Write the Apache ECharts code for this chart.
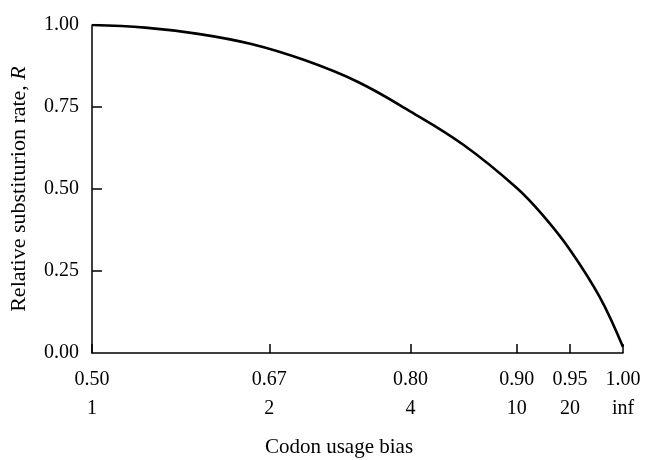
<!DOCTYPE html>
<html>
<head>
<meta charset="utf-8">
<script src="https://cdn.jsdelivr.net/npm/echarts@6/dist/echarts.min.js"></script>
<style>
  html, body { margin: 0; padding: 0; background: #fff; }
  #chart { width: 646px; height: 460px; }
</style>
</head>
<body>
<div id="chart"></div>
<script>
// codon usage bias (p) vs relative substitution rate R
var biasP = [0.5, 0.55, 0.6, 0.65, 0.7, 0.75, 0.8, 0.85, 0.9, 0.925, 0.95, 0.978, 1.0];
var rateR = [1.0, 0.992, 0.973, 0.942, 0.893, 0.827, 0.736, 0.634, 0.503, 0.418, 0.315, 0.171, 0.018];

// x tick positions and their two label rows
var tickP = [0.5, 0.667, 0.8, 0.9, 0.95, 1.0];
var tickTop = ['0.50', '0.67', '0.80', '0.90', '0.95', '1.00'];
var tickBottom = ['1', '2', '4', '10', '20', 'inf'];

var yTicks = [0, 0.25, 0.5, 0.75, 1.0];

var font = 'Liberation Serif';

var chart = echarts.init(document.getElementById('chart'));

var option = {
    animation: false,
    backgroundColor: '#fff',
    title: {
        text: 'Codon usage bias',
        left: 334,
        top: 432,
        textAlign: 'center',
        textStyle: { fontFamily: font, fontSize: 21, fontWeight: 'normal', color: '#000' }
    },
    grid: { left: 92, right: 23, top: 25, bottom: 107 },
    xAxis: {
        type: 'value',
        min: 0.5,
        max: 1.0,
        axisLine: { lineStyle: { color: '#000', width: 1.5 } },
        axisTick: {
            inside: true, length: 9, customValues: tickP,
            lineStyle: { color: '#000', width: 1.5 }
        },
        axisLabel: {
            customValues: tickP,
            margin: 12,
            fontFamily: font, fontSize: 20, color: '#000', lineHeight: 29,
            formatter: function (v) {
                var best = 0;
                for (var i = 1; i < tickP.length; i++) {
                    if (Math.abs(tickP[i] - v) < Math.abs(tickP[best] - v)) best = i;
                }
                return tickTop[best] + '\n' + tickBottom[best];
            }
        },
        splitLine: { show: false }
    },
    yAxis: {
        type: 'value',
        min: 0,
        max: 1,
        interval: 0.25,
        name: 'Relative substiturion rate, {i|R}',
        nameLocation: 'middle',
        nameGap: 62,
        nameTextStyle: {
            fontFamily: font, fontSize: 22, color: '#000',
            rich: { i: { fontFamily: font, fontSize: 22, fontStyle: 'italic', color: '#000' } }
        },
        axisLine: { show: true, lineStyle: { color: '#000', width: 1.5 } },
        axisTick: {
            show: true, inside: true, length: 10, customValues: [0.25, 0.5, 0.75],
            lineStyle: { color: '#000', width: 1.5 }
        },
        axisLabel: {
            customValues: yTicks,
            margin: 13,
            fontFamily: font, fontSize: 20, color: '#000',
            formatter: function (v) { return v.toFixed(2); }
        },
        splitLine: { show: false }
    },
    series: [{
        type: 'line',
        data: biasP.map(function (p, i) { return [p, rateR[i]]; }),
        smooth: 0.4,
        showSymbol: false,
        lineStyle: { color: '#000', width: 2.6 }
    }]
};

chart.setOption(option);
</script>
</body>
</html>
